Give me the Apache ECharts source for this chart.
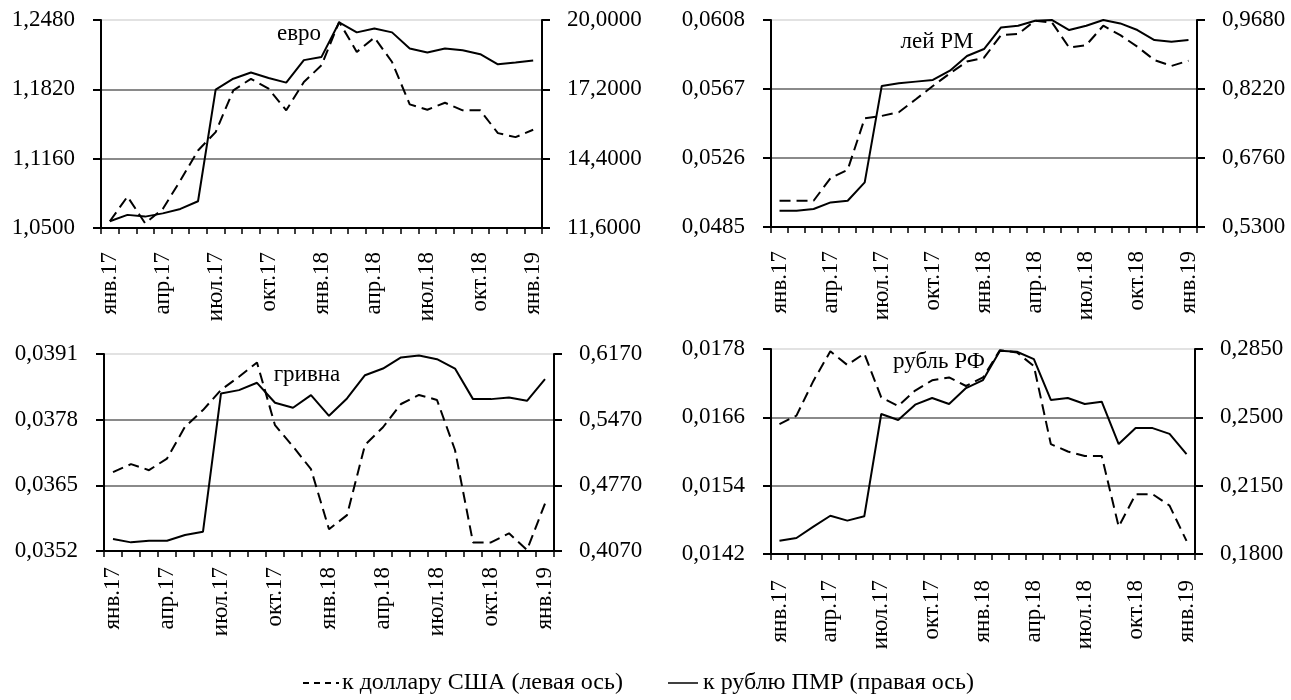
<!DOCTYPE html>
<html><head><meta charset="utf-8">
<script src="https://cdn.jsdelivr.net/npm/echarts@6/dist/echarts.min.js"></script>
<style>html,body{margin:0;padding:0;background:#fff}#c{width:1291px;height:700px}</style>
</head><body><div id="c"></div><script>
const months = ['янв.17','фев.17','мар.17','апр.17','май.17','июн.17','июл.17','авг.17','сен.17','окт.17','ноя.17','дек.17',
  'янв.18','фев.18','мар.18','апр.18','май.18','июн.18','июл.18','авг.18','сен.18','окт.18','ноя.18','дек.18','янв.19'];

const panelNames = ['евро', 'лей РМ', 'гривна', 'рубль РФ'];
const seriesNames = ['к доллару США (левая ось)', 'к рублю ПМР (правая ось)'];

// евро
const euroUsd = [1.0564,1.0799,1.0545,1.0681,1.0952,1.1238,1.1413,1.1810,1.1920,1.1826,1.1620,1.1890,1.2049,
  1.2462,1.2176,1.2313,1.2080,1.1677,1.1626,1.1692,1.1620,1.1620,1.1403,1.1365,1.1435];
const euroPmr = [11.87,12.13,12.06,12.19,12.37,12.68,17.19,17.63,17.88,17.66,17.47,18.38,18.51,
  19.90,19.50,19.66,19.50,18.85,18.69,18.85,18.78,18.62,18.21,18.28,18.36];
// лей РМ
const leiUsd = [0.05006,0.05006,0.05006,0.05141,0.05190,0.05496,0.05510,0.05532,0.05609,0.05688,0.05763,0.05833,0.05856,
  0.05990,0.05997,0.06076,0.06064,0.05916,0.05931,0.06046,0.05990,0.05921,0.05842,0.05807,0.05838];
const leiPmr = [0.5645,0.5645,0.5680,0.5820,0.5856,0.6243,0.8285,0.8340,0.8376,0.8411,0.8608,0.8918,0.9066,
  0.9523,0.9559,0.9664,0.9679,0.9468,0.9559,0.9679,0.9608,0.9468,0.9256,0.9221,0.9256];
// гривна
const uahUsd = [0.03676,0.03692,0.03680,0.03703,0.03766,0.03799,0.03839,0.03865,0.03893,0.03769,0.03727,0.03682,0.03563,
  0.03591,0.03730,0.03765,0.03811,0.03829,0.03819,0.03720,0.03537,0.03537,0.03555,0.03522,0.03614];
const uahPmr = [0.4198,0.4162,0.4180,0.4180,0.4240,0.4276,0.5750,0.5785,0.5863,0.5650,0.5597,0.5732,0.5511,
  0.5696,0.5944,0.6015,0.6133,0.6154,0.6115,0.6015,0.5689,0.5689,0.5707,0.5671,0.5902];
// рубль РФ
const rubUsd = [0.01648,0.01663,0.01724,0.01776,0.01752,0.01772,0.01695,0.01680,0.01707,0.01725,0.01730,0.01715,0.01730,
  0.01778,0.01774,0.01750,0.01613,0.01600,0.01592,0.01592,0.01468,0.01525,0.01525,0.01505,0.01443];
const rubPmr = [0.1868,0.1882,0.1940,0.1996,0.1971,0.1993,0.2517,0.2486,0.2565,0.2599,0.2568,0.2650,0.2691,
  0.2841,0.2836,0.2798,0.2589,0.2599,0.2568,0.2580,0.2363,0.2445,0.2445,0.2415,0.2312];

// axis ranges [min, max]
const leftRanges = [[1.0500,1.2480],[0.0485,0.0608],[0.0352,0.0391],[0.0142,0.0178]];
const rightRanges = [[11.6,20.0],[0.530,0.968],[0.407,0.617],[0.180,0.285]];

const usdData = [euroUsd, leiUsd, uahUsd, rubUsd];
const pmrData = [euroPmr, leiPmr, uahPmr, rubPmr];

// layout
const grids = [
  {left:101, top:20, width:441, height:208, lblMargin:24},
  {left:771, top:20, width:426, height:207, lblMargin:24},
  {left:104, top:354, width:450, height:197, lblMargin:16},
  {left:771, top:349, width:424, height:205, lblMargin:26}
];
const namePos = [[299,34],[937,42],[307,375],[939,362]];

const FONT = '"Liberation Serif", "Times New Roman", serif';
const fmt = v => (Math.round(v*10000)/10000).toFixed(4).replace('.', ',');

const option = {
  animation:false,
  backgroundColor:'#fff',
  grid:[], xAxis:[], yAxis:[], series:[], graphic:[]
};

grids.forEach((g,i)=>{
  option.grid.push({left:g.left, top:g.top, width:g.width, height:g.height, containLabel:false, outerBoundsMode:'none'});
  option.xAxis.push({
    type:'category', gridIndex:i, data:months, boundaryGap:true,
    axisLine:{lineStyle:{color:'#000', width:2}},
    axisTick:{show:true, interval:0, length:6, lineStyle:{color:'#000', width:1.5}},
    axisLabel:{interval:2, rotate:90, margin:g.lblMargin, color:'#000', fontFamily:FONT, fontSize:23},
    splitLine:{show:false}
  });
  const lr = leftRanges[i], rr = rightRanges[i];
  option.yAxis.push({
    type:'value', gridIndex:i, position:'left', min:lr[0], max:lr[1], interval:(lr[1]-lr[0])/3,
    axisLine:{show:true, lineStyle:{color:'#000', width:2}},
    axisTick:{show:true, length:8, lineStyle:{color:'#000', width:2}},
    axisLabel:{formatter:fmt, margin:26, color:'#000', fontFamily:FONT, fontSize:23},
    splitLine:{show:true, lineStyle:{color:['#8a8a8a','#8a8a8a','#8a8a8a','#e2e2e2'], width:2}}
  });
  option.yAxis.push({
    type:'value', gridIndex:i, position:'right', min:rr[0], max:rr[1], interval:(rr[1]-rr[0])/3,
    axisLine:{show:true, lineStyle:{color:'#000', width:2}},
    axisTick:{show:true, length:8, lineStyle:{color:'#000', width:2}},
    axisLabel:{formatter:fmt, margin:25, color:'#000', fontFamily:FONT, fontSize:23},
    splitLine:{show:false}
  });
  option.series.push({
    name:seriesNames[0], type:'line', xAxisIndex:i, yAxisIndex:2*i, data:usdData[i],
    symbol:'none', lineStyle:{color:'#000', width:2, type:[11,6]}, z:3
  });
  option.series.push({
    name:seriesNames[1], type:'line', xAxisIndex:i, yAxisIndex:2*i+1, data:pmrData[i],
    symbol:'none', lineStyle:{color:'#000', width:2}, z:4
  });
  option.graphic.push({
    type:'text', x:namePos[i][0], y:namePos[i][1],
    style:{text:panelNames[i], fill:'#000', font:'23px ' + FONT, textAlign:'center', textVerticalAlign:'middle'}, z:10
  });
});

// legend
const LY = 683;
option.graphic.push(
  {type:'line', shape:{x1:303, y1:LY, x2:339, y2:LY}, style:{stroke:'#000', lineWidth:2, lineDash:[6,5]}},
  {type:'text', x:342, y:LY, style:{text:seriesNames[0], fill:'#000', font:'24px ' + FONT, textVerticalAlign:'middle'}},
  {type:'line', shape:{x1:668, y1:LY, x2:698, y2:LY}, style:{stroke:'#000', lineWidth:1.5}},
  {type:'text', x:703, y:LY, style:{text:seriesNames[1], fill:'#000', font:'24px ' + FONT, textVerticalAlign:'middle'}}
);

const chart = echarts.init(document.getElementById('c'), null, {renderer:'canvas'});
chart.setOption(option);
</script></body></html>
